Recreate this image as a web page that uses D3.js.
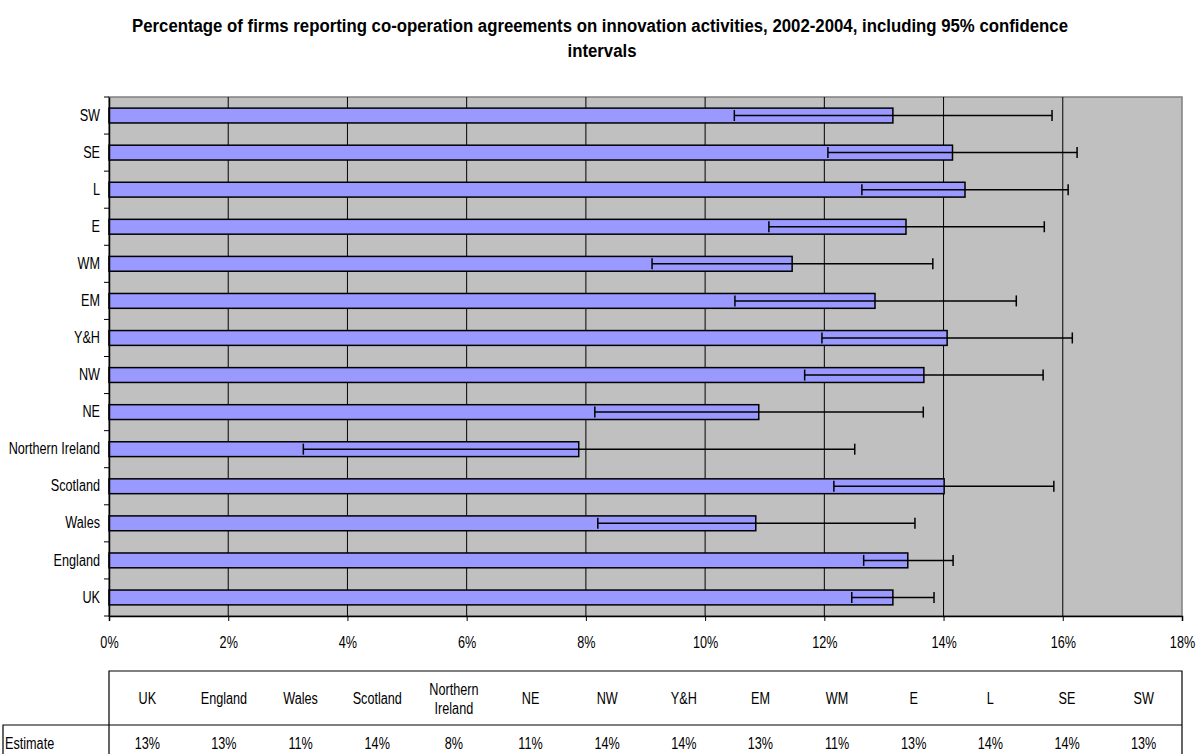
<!DOCTYPE html>
<html>
<head>
<meta charset="utf-8">
<script src="https://cdn.jsdelivr.net/npm/d3@7"></script>
<style>
body { margin: 0; background: #fff; }
text { font-family: "Liberation Sans", Arial, sans-serif; }
</style>
</head>
<body>
<script>
var width = 1202,
    height = 754;

// regions, bottom of the chart first
var categories = ["UK", "England", "Wales", "Scotland", "Northern Ireland", "NE", "NW", "Y&H", "EM", "WM", "E", "L", "SE", "SW"];
var estimate = [0.1315, 0.1340, 0.1085, 0.1401, 0.0788, 0.1090, 0.1367, 0.1406, 0.1285, 0.1146, 0.1337, 0.1436, 0.1415, 0.1315];
var lower    = [0.1246, 0.1266, 0.0820, 0.1216, 0.0326, 0.0815, 0.1167, 0.1196, 0.1050, 0.0911, 0.1107, 0.1263, 0.1206, 0.1049];
var upper    = [0.1384, 0.1416, 0.1352, 0.1585, 0.1251, 0.1366, 0.1567, 0.1616, 0.1522, 0.1382, 0.1569, 0.1609, 0.1624, 0.1582];
var xTicks = [0, 0.02, 0.04, 0.06, 0.08, 0.10, 0.12, 0.14, 0.16, 0.18];
var tableHeader = [["UK"], ["England"], ["Wales"], ["Scotland"], ["Northern", "Ireland"], ["NE"], ["NW"], ["Y&H"], ["EM"], ["WM"], ["E"], ["L"], ["SE"], ["SW"]];

var data = categories.map(function(c, i) {
    return {name: c, est: estimate[i], lo: lower[i], hi: upper[i]};
});

var plot = {left: 109, right: 1182, top: 97, bottom: 616};
var fs = "16px";
var squeeze = 0.79;   // fake a narrow face

var svg = d3.select("body")
    .append("svg")
    .attr("width", width)
    .attr("height", height);

//squash text horizontally since no narrow font is installed
function narrow(sel) {
    sel.each(function() {
        var w = this.getComputedTextLength();
        d3.select(this).attr("textLength", w * squeeze).attr("lengthAdjust", "spacingAndGlyphs");
    });
}

var x = d3.scaleLinear()
    .domain([0, 0.18])
    .range([plot.left, plot.right]);

var y = d3.scaleBand()
    .domain(categories.slice().reverse())
    .range([plot.top, plot.bottom])
    .paddingInner(0.6)
    .paddingOuter(0.3);

//title
var title = svg.append("text")
    .attr("text-anchor", "middle")
    .style("font-weight", "bold")
    .style("font-size", "18px");
title.append("tspan").attr("x", 600).attr("y", 32)
    .attr("textLength", 936).attr("lengthAdjust", "spacingAndGlyphs")
    .text("Percentage of firms reporting co-operation agreements on innovation activities, 2002-2004, including 95% confidence");
title.append("tspan").attr("x", 602).attr("y", 57)
    .attr("textLength", 69).attr("lengthAdjust", "spacingAndGlyphs")
    .text("intervals");

//plot background
svg.append("rect")
    .attr("x", plot.left)
    .attr("y", plot.top)
    .attr("width", plot.right - plot.left)
    .attr("height", plot.bottom - plot.top)
    .style("fill", "#c0c0c0")
    .style("stroke", "#808080")
    .style("stroke-width", 1.5);

//gridlines
svg.selectAll(".grid")
    .data(xTicks.slice(1, -1))
    .enter().append("line")
        .attr("class", "grid")
        .attr("x1", function(d) { return x(d); })
        .attr("x2", function(d) { return x(d); })
        .attr("y1", plot.top)
        .attr("y2", plot.bottom)
        .style("stroke", "#000")
        .style("stroke-width", 1);

//bars
svg.selectAll(".bar")
    .data(data)
    .enter().append("rect")
        .attr("class", "bar")
        .attr("x", x(0))
        .attr("y", function(d) { return y(d.name); })
        .attr("width", function(d) { return x(d.est) - x(0); })
        .attr("height", y.bandwidth())
        .style("fill", "#9999ff")
        .style("stroke", "#000")
        .style("stroke-width", 1.5);

//error bars
var capH = 11;
var err = svg.selectAll(".err")
    .data(data)
    .enter().append("g")
        .attr("class", "err")
        .attr("transform", function(d) { return "translate(0," + (y(d.name) + y.bandwidth() / 2) + ")"; })
        .style("stroke", "#000")
        .style("stroke-width", 1.5);
err.append("line")
    .attr("x1", function(d) { return x(d.lo); })
    .attr("x2", function(d) { return x(d.hi); });
err.append("line")
    .attr("x1", function(d) { return x(d.lo); })
    .attr("x2", function(d) { return x(d.lo); })
    .attr("y1", -capH / 2).attr("y2", capH / 2);
err.append("line")
    .attr("x1", function(d) { return x(d.hi); })
    .attr("x2", function(d) { return x(d.hi); })
    .attr("y1", -capH / 2).attr("y2", capH / 2);

//x axis
var xAxis = svg.append("g")
    .attr("transform", "translate(0," + plot.bottom + ")")
    .call(d3.axisBottom(x).tickValues(xTicks).tickFormat(d3.format(".0%")).tickSize(5).tickPadding(16));
xAxis.attr("font-family", null);
xAxis.select(".domain").style("stroke", "#000").style("stroke-width", 1.5);
xAxis.selectAll("text").style("font-size", fs).style("fill", "#000").call(narrow);

//y axis
var yAxis = svg.append("g")
    .attr("transform", "translate(" + plot.left + ",0)")
    .call(d3.axisLeft(y).tickSize(0).tickPadding(9));
yAxis.attr("font-family", null);
yAxis.select(".domain").style("stroke", "#000").style("stroke-width", 1.5);
yAxis.selectAll("text").style("font-size", fs).style("fill", "#000").call(narrow);

//category boundary ticks
var bounds = categories.map(function(c) { return y(c) - y.step() * y.paddingInner() / 2; });
bounds.push(plot.bottom);
yAxis.selectAll(".btick")
    .data(bounds)
    .enter().append("line")
        .attr("class", "btick")
        .attr("x1", -5).attr("x2", 0)
        .attr("y1", function(d) { return d; })
        .attr("y2", function(d) { return d; })
        .style("stroke", "#000");

//data table
var tbl = {top: 671, mid: 725, bottom: 770, left: 3};
var col = d3.scaleBand().domain(categories).range([plot.left, plot.right]);
var tg = svg.append("g").style("stroke", "#000").style("stroke-width", 1.2).style("fill", "none");
tg.append("path").attr("d",
    "M" + plot.left + "," + tbl.bottom + "V" + tbl.top + "H" + plot.right + "V" + tbl.bottom +
    "M" + tbl.left + "," + tbl.bottom + "V" + tbl.mid + "H" + plot.right);

var head = svg.selectAll(".head")
    .data(categories)
    .enter().append("text")
        .attr("class", "head")
        .attr("text-anchor", "middle")
        .style("font-size", fs)
        .attr("x", function(d) { return col(d) + col.bandwidth() / 2; });
head.each(function(d, i) {
    var lines = tableHeader[i];
    var t = d3.select(this);
    lines.forEach(function(l, k) {
        t.append("tspan")
            .attr("x", col(d) + col.bandwidth() / 2)
            .attr("y", 704 + (k - (lines.length - 1) / 2) * 19)
            .text(l)
            .call(narrow);
    });
});

svg.selectAll(".val")
    .data(data)
    .enter().append("text")
        .attr("class", "val")
        .attr("text-anchor", "middle")
        .style("font-size", fs)
        .attr("x", function(d) { return col(d.name) + col.bandwidth() / 2; })
        .attr("y", 749)
        .text(function(d) { return d3.format(".0%")(d.est); })
        .call(narrow);

svg.append("text")
    .attr("x", 5)
    .attr("y", 749)
    .style("font-size", fs)
    .text("Estimate")
    .call(narrow);
</script>
</body>
</html>
